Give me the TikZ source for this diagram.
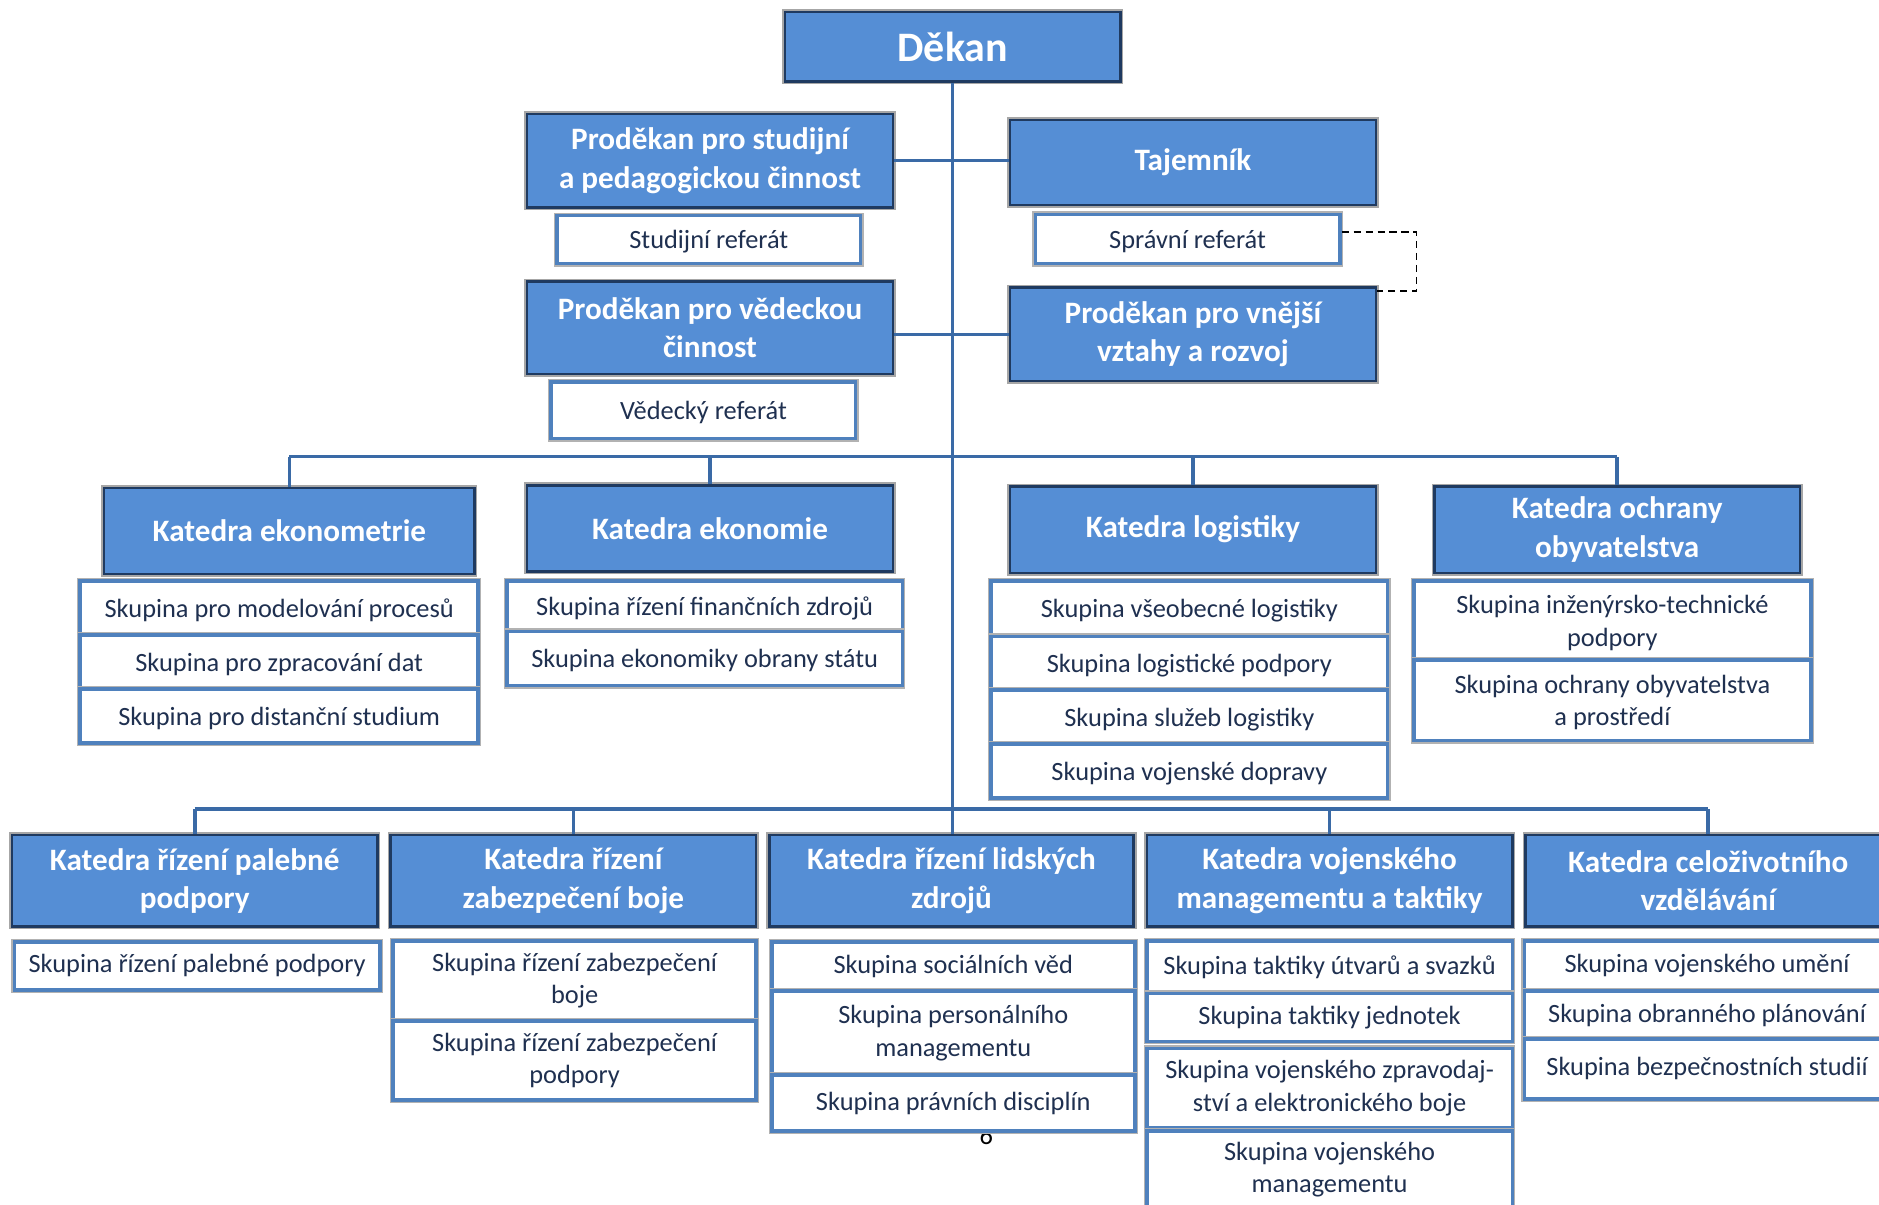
\documentclass[tikz,border=0pt]{standalone}
\usepackage{fontspec}
\setmainfont{Carlito}
\usetikzlibrary{calc}
\definecolor{hfill}{HTML}{558ED5}
\definecolor{hdraw}{HTML}{1F3A60}
\definecolor{gdraw}{HTML}{4F81BD}
\definecolor{gtext}{HTML}{1F3050}
\definecolor{conncol}{HTML}{3A6AA6}
\newcommand{\bx}[6]{%
 \pgfmathsetmacro\bw{(#5-#3)*0.5}\pgfmathsetmacro\bh{(#6-#4)*0.5}%
 \node[#1, minimum width=\bw pt, minimum height=\bh pt] (#2) at ({(#3+#5)/2},{(#4+#6)/2})}
\begin{document}
\begin{tikzpicture}[x=0.5pt,y=-0.5pt,
 hbox/.style={draw=hdraw, line width=1pt, fill=hfill, text=white, font=\bfseries\fontsize{13}{16}\selectfont, align=center, inner sep=0pt, preaction={draw=gray!70, line width=2.4pt}},
 gbox/.style={draw=gdraw, line width=1.5pt, fill=white, text=gtext, font=\fontsize{11}{13.5}\selectfont, align=center, inner sep=0pt, preaction={draw=gray!60, line width=2.6pt}},
 glow/.style={gbox, text depth=0pt},
 conn/.style={draw=conncol, line width=1.5pt},
 dashcon/.style={draw=black, line width=0.6pt, dash pattern=on 3pt off 2pt}]
\useasboundingbox (0,0) rectangle (1568,1005);
\clip (0,0) rectangle (1568,1005);
\fill[white] (0,0) rectangle (1568,1005);
% page number
\node[font=\fontsize{11}{13}\selectfont, text=black] (pg) at (823,948) {6};
% top management
\bx{hbox, font=\bfseries\fontsize{17.5}{20}\selectfont}{dekan}{655}{10}{935}{68} {Děkan};
\bx{hbox}{p1}{440}{95}{745}{173} {Proděkan pro studijní\\a pedagogickou činnost};
\bx{hbox}{taj}{843}{100}{1148}{171} {Tajemník};
\bx{glow}{sr}{465}{180}{718}{220} {Studijní referát};
\bx{glow}{spr}{864}{179}{1118}{220} {Správní referát};
\bx{hbox}{p2}{440}{235}{745}{312} {Proděkan pro vědeckou\\činnost};
\bx{hbox}{p3}{843}{240}{1148}{318} {Proděkan pro vnější\\vztahy a rozvoj};
\bx{glow}{vr}{460}{319}{714}{366} {Vědecký referát};
% upper departments
\bx{hbox}{k1}{87}{407}{396}{479} {Katedra ekonometrie};
\bx{hbox}{k2}{440}{405}{745}{477} {Katedra ekonomie};
\bx{hbox}{k3}{843}{406}{1148}{478} {Katedra logistiky};
\bx{hbox}{k4}{1197}{406}{1502}{478} {Katedra ochrany\\obyvatelstva};
\bx{glow}{g11}{67}{485}{399}{530} {Skupina pro modelování procesů};
\bx{glow}{g12}{67}{530}{399}{575} {Skupina pro zpracování dat};
\bx{glow}{g13}{67}{575}{399}{620} {Skupina pro distanční studium};
\bx{glow}{g21}{423}{485}{753}{527} {Skupina řízení finančních zdrojů};
\bx{glow}{g22}{423}{527}{753}{572} {Skupina ekonomiky obrany státu};
\bx{glow}{g31}{827}{485}{1158}{531} {Skupina všeobecné logistiky};
\bx{glow}{g32}{827}{531}{1158}{576} {Skupina logistické podpory};
\bx{glow}{g33}{827}{576}{1158}{621} {Skupina služeb logistiky};
\bx{glow}{g34}{827}{621}{1158}{666} {Skupina vojenské dopravy};
\bx{glow}{g41}{1180}{485}{1511}{551} {Skupina inženýrsko-technické\\podpory};
\bx{glow}{g42}{1180}{551}{1511}{618} {Skupina ochrany obyvatelstva\\a prostředí};
% lower departments
\bx{hbox}{b1}{10}{697}{315}{773} {Katedra řízení palebné\\podpory};
\bx{hbox}{b2}{326}{697}{631}{773} {Katedra řízení\\zabezpečení boje};
\bx{hbox}{b3}{642}{697}{946}{773} {Katedra řízení lidských\\zdrojů};
\bx{hbox}{b4}{957}{697}{1262}{773} {Katedra vojenského\\managementu a taktiky};
\bx{hbox}{b5}{1273}{697}{1578}{773} {Katedra celoživotního\\vzdělávání};
\bx{gbox}{c11}{12}{786}{317}{826} {Skupina řízení palebné podpory};
\bx{gbox}{c21}{328}{785}{631}{852} {Skupina řízení zabezpečení\\boje};
\bx{gbox}{c22}{328}{852}{631}{918} {Skupina řízení zabezpečení\\podpory};
\bx{gbox}{c31}{644}{786}{947}{827} {Skupina sociálních věd};
\bx{gbox}{c32}{644}{827}{947}{897} {Skupina personálního\\managementu};
\bx{gbox}{c33}{644}{897}{947}{944} {Skupina právních disciplín};
\bx{gbox}{c41}{957}{785}{1262}{829} {Skupina taktiky útvarů a svazků};
\bx{gbox}{c42}{957}{829}{1262}{869} {Skupina taktiky jednotek};
\bx{gbox}{c43}{957}{875}{1262}{941} {Skupina vojenského zpravodaj-\\ství a elektronického boje};
\bx{gbox}{c44}{957}{944}{1262}{1008} {Skupina vojenského\\managementu};
\bx{gbox}{c51}{1272}{785}{1577}{827} {Skupina vojenského umění};
\bx{gbox}{c52}{1272}{827}{1577}{867} {Skupina obranného plánování};
\bx{gbox}{c53}{1272}{867}{1577}{917} {Skupina bezpečnostních studií};
% connectors
\draw[conn] (dekan.south) -- (dekan.south |- b3.north);
\draw[conn] (p1.east) -- (p1.east -| taj.west);
\draw[conn] (p3.west -| p2.east) -- (p3.west);
\coordinate (bus1) at (795,381);
\coordinate (bus2) at (795,675);
\coordinate (dc) at (1182,243);
\draw[conn] (k1.north |- bus1) -- (k4.north |- bus1);
\foreach \k in {k1,k2,k3,k4} \draw[conn] (\k.north) -- (\k.north |- bus1);
\draw[conn] (b1.north |- bus2) -- (b5.north |- bus2);
\foreach \k in {b1,b2,b4,b5} \draw[conn] (\k.north) -- (\k.north |- bus2);
\draw[dashcon] ($(spr.east)+(0,-6)$) -| (dc) -- (dc -| p3.east);
\end{tikzpicture}
\end{document}
